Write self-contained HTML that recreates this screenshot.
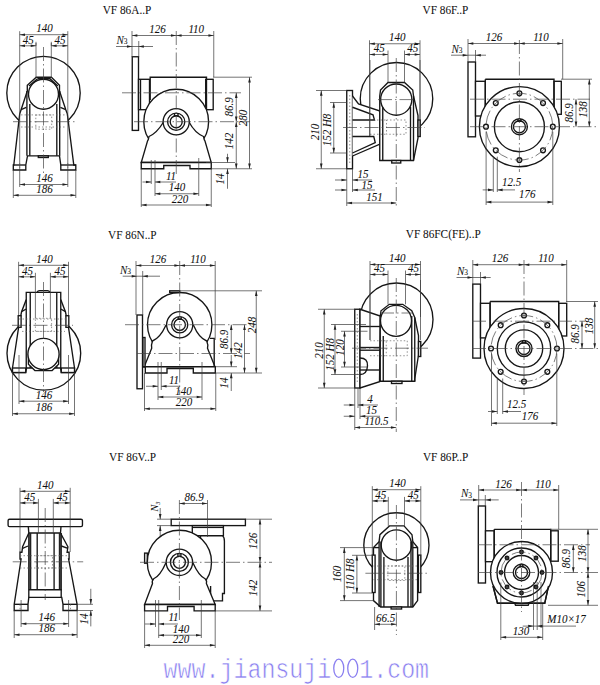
<!DOCTYPE html>
<html><head><meta charset="utf-8"><style>
html,body{margin:0;padding:0;background:#fff;width:600px;height:685px;overflow:hidden}
svg{display:block}
.o{stroke:#161616;stroke-width:1.35;fill:none}
.d{stroke:#3a3a3a;stroke-width:0.7;fill:none}
.c{stroke:#444;stroke-width:0.7;fill:none;stroke-dasharray:14 3 1.5 3}
.h{stroke:#666;stroke-width:0.7;fill:none;stroke-dasharray:1.5 2}
.ar{fill:#222;stroke:none}
.dt{font-family:"Liberation Serif",serif;font-style:italic;fill:#111;stroke:#111;stroke-width:0.05}
.tt{font-family:"Liberation Serif",serif;fill:#111;stroke:#111;stroke-width:0.05}
.ww{font-family:"Liberation Mono",monospace;fill:#8a7ff0;stroke:#fff;stroke-width:0.5}
</style></head><body>
<svg width="600" height="685" viewBox="0 0 600 685">
<rect width="600" height="685" fill="#fff"/>
<text class="tt" transform="translate(102.7 14) scale(1 1.17)" x="0" y="0" font-size="11.3">VF 86A..P</text>
<text class="tt" transform="translate(422.5 14) scale(1 1.17)" x="0" y="0" font-size="11.3">VF 86F..P</text>
<text class="tt" transform="translate(108 238.9) scale(1 1.17)" x="0" y="0" font-size="11.3">VF 86N..P</text>
<text class="tt" transform="translate(405.8 237.5) scale(1 1.17)" x="0" y="0" font-size="11.3">VF 86FC(FE)..P</text>
<text class="tt" transform="translate(109 460.8) scale(1 1.17)" x="0" y="0" font-size="11.3">VF 86V..P</text>
<text class="tt" transform="translate(422.9 461.3) scale(1 1.17)" x="0" y="0" font-size="11.3">VF 86P..P</text>
<g transform="translate(0 677.5) scale(1 1.2)"><text class="ww" style="white-space:pre" y="0" font-size="23.3" x="163.6">www.jiansuji  1.com</text></g>
<ellipse cx="338.76" cy="668.3" rx="5.0" ry="9.1" style="fill:none;stroke:#8a7ff0;stroke-width:1.3"/>
<ellipse cx="352.74" cy="668.3" rx="5.0" ry="9.1" style="fill:none;stroke:#8a7ff0;stroke-width:1.3"/>
<circle class="o" cx="43.5" cy="93" r="36.7" style="fill:none"/>
<path class="o" d="M36.25 77.2 L51.4 77.2 L59.5 85.2 L59.5 91 L65.8 109.7 L67.3 113.8 L73.8 165 L75.8 165 L75.8 170 L60.8 170 L60.8 165 L59.5 155.8 L27.5 155.8 L25.8 165 L25.8 170 L13.3 170 L13.3 165 L13.8 165 L19.7 113.8 L21.1 109.7 L27.3 91 L27.3 85.2 Z" style="fill:#fff"/>
<circle class="o" cx="43.5" cy="94.2" r="15" style="fill:none"/>
<line class="o" x1="26.9" y1="91" x2="26.9" y2="155.8"/>
<line class="o" x1="29.8" y1="104" x2="29.8" y2="155.8"/>
<line class="o" x1="56.8" y1="104" x2="56.8" y2="155.8"/>
<line class="o" x1="59.7" y1="91" x2="59.7" y2="155.8"/>
<line class="o" x1="26.3" y1="107.3" x2="21.1" y2="109.7"/>
<line class="o" x1="60.4" y1="107.3" x2="65.8" y2="109.7"/>
<path class="o" d="M37.5 78.7 L50 78.7 L57.8 86"/>
<path class="o" d="M29 86 L37.5 78.7"/>
<rect class="o" x="38.3" y="155.8" width="10" height="1.7" style="fill:#fff"/>
<line class="o" x1="13.3" y1="165" x2="25.8" y2="165"/>
<line class="o" x1="60.8" y1="165" x2="75.8" y2="165"/>
<rect class="o" x="132.25" y="56.75" width="6.25" height="73.65" style="fill:#fff"/>
<rect class="o" x="138.5" y="79.3" width="11" height="30.4" style="fill:#fff"/>
<line class="o" x1="140.5" y1="79.3" x2="140.5" y2="109.7"/>
<rect class="o" x="205.7" y="79.3" width="7.5" height="30.4" style="fill:#fff"/>
<path class="o" d="M149.5 77.2 L206.5 77.2 L206.5 110 M150.2 77.2 L150.2 100"/>
<circle class="o" cx="176.2" cy="121.7" r="32.4" style="fill:#fff"/>
<path class="o" d="M149 136.5 Q 157 133 163.5 122 A13.1 13.1 0 0 1 189 122 Q 195 133 203.5 136.5 Q 204 140 205 141 L211.25 162.5 L141.25 162.5 L147.5 141 Q 148.5 140 149 136.5 Z" style="fill:#fff"/>
<circle class="o" cx="176.2" cy="121.7" r="13.1" style="fill:#fff"/>
<circle class="o" cx="176.2" cy="121.7" r="8.6" style="fill:none"/>
<circle class="o" cx="176.2" cy="121.7" r="6" style="fill:none"/>
<path class="o" d="M174.5 113.2 L174.5 115.8 L178 115.8 L178 113.2"/>
<path class="o" d="M141.25 162.5 L211.25 162.5 L211.25 168.75 L190 168.75 L190 165.5 L163.75 165.5 L163.75 168.75 L141.25 168.75 Z" style="fill:#fff"/>
<circle class="o" cx="396.5" cy="98.75" r="36.25" style="fill:none"/>
<rect class="o" x="346.75" y="90.5" width="5.75" height="78.25" style="fill:#fff"/>
<path class="o" d="M352.5 96 L358.5 104 L380 111 L380 144 L352.5 156" style="fill:#fff"/>
<path class="o" d="M352.5 107.25 L373 114.75 L374.5 120 L352.5 120"/>
<path class="o" d="M352.5 136.5 L373.75 136.5 L375.25 142.5 L352.5 153"/>
<path class="o" d="M388 82.5 L404.5 82.5 L412.75 90 L413.5 96 L418 115.5 L418 138 L413.5 160.5 L379.75 160.5 L379.75 96 L380.5 90 Z" style="fill:#fff"/>
<circle class="o" cx="396.25" cy="99.6" r="15.6" style="fill:#fff"/>
<line class="o" x1="382.75" y1="107" x2="382.75" y2="160.5"/>
<line class="o" x1="410.5" y1="107" x2="410.5" y2="160.5"/>
<line class="o" x1="413.5" y1="96" x2="413.5" y2="160.5"/>
<rect class="o" x="418" y="120" width="2.25" height="16.5" style="fill:#fff"/>
<rect class="o" x="391.75" y="160.5" width="9" height="2.5" style="fill:#fff"/>
<rect class="o" x="468" y="62" width="7.5" height="74.8" style="fill:#fff"/>
<rect class="o" x="475.5" y="81.3" width="9.8" height="34.7" style="fill:#fff"/>
<rect class="o" x="554" y="81.3" width="7.3" height="33" style="fill:#fff"/>
<path class="o" d="M485.3 79.2 L554 79.2 L554 114.3 M485.3 79.2 L485.3 116"/>
<circle class="o" cx="519.4" cy="126.7" r="40" style="fill:#fff"/>
<circle class="o" cx="519.4" cy="126.7" r="25" style="fill:none"/>
<circle class="o" cx="519.4" cy="126.7" r="8" style="fill:none"/>
<circle class="o" cx="519.4" cy="126.7" r="6" style="fill:none"/>
<path class="o" d="M517.9 118.9 L517.9 121.2 L520.9 121.2 L520.9 118.9"/>
<circle class="o" cx="552.8" cy="126.7" r="2.4" style="fill:none"/>
<circle class="o" cx="543.02" cy="150.32" r="2.4" style="fill:none"/>
<circle class="o" cx="519.4" cy="160.1" r="2.4" style="fill:none"/>
<circle class="o" cx="495.78" cy="150.32" r="2.4" style="fill:none"/>
<circle class="o" cx="486" cy="126.7" r="2.4" style="fill:none"/>
<circle class="o" cx="495.78" cy="103.08" r="2.4" style="fill:none"/>
<circle class="o" cx="519.4" cy="93.3" r="2.4" style="fill:none"/>
<circle class="o" cx="543.02" cy="103.08" r="2.4" style="fill:none"/>
<circle class="o" cx="43.85" cy="353.3" r="36.85" style="fill:none"/>
<path class="o" d="M26.25 292.3 L60.75 292.3 L60.75 299.6 L65.5 312 L68.5 327.3 L74.5 368 L74.5 372.5 L61.3 372.5 L60.5 368 L26.6 368 L25.7 372.5 L12.5 372.5 L12.5 368 L18.6 327.3 L21.5 312 L26.25 299.6 Z" style="fill:#fff"/>
<rect class="o" x="18.2" y="315.7" width="2.9" height="11.6" style="fill:#fff"/>
<rect class="o" x="65.9" y="315.7" width="2.9" height="11.6" style="fill:#fff"/>
<line class="o" x1="26.25" y1="309" x2="21.5" y2="311.6"/>
<line class="o" x1="60.75" y1="309" x2="65.5" y2="311.6"/>
<path class="o" d="M37.2 292.3 Q37.8 290.6 39.5 290.6 L47.5 290.6 Q49.2 290.6 49.8 292.3"/>
<line class="o" x1="30.25" y1="292.3" x2="30.25" y2="368"/>
<line class="o" x1="56.75" y1="292.3" x2="56.75" y2="368"/>
<line class="o" x1="26.25" y1="299.6" x2="26.25" y2="368"/>
<line class="o" x1="60.75" y1="299.6" x2="60.75" y2="368"/>
<rect class="o" x="12.5" y="368" width="13.2" height="4.5" style="fill:#fff"/>
<rect class="o" x="61.3" y="368" width="13.2" height="4.5" style="fill:#fff"/>
<path class="o" d="M28.4 354 L28.4 364.2 L34.9 370.6 L52.1 370.6 L58.6 364.2 L58.6 354" style="fill:#fff"/>
<circle class="o" cx="43.5" cy="354" r="15.6" style="fill:#fff"/>
<rect class="o" x="137" y="315" width="5.5" height="73.75" style="fill:#fff"/>
<circle class="o" cx="179.7" cy="324.7" r="32.2" style="fill:#fff"/>
<rect class="o" x="169.7" y="290.8" width="10" height="1.7" style="fill:#fff"/>
<path class="o" d="M165.8 325.5 Q 160 338 152.5 341 Q 151 345 151.7 348.3 L144.2 366.7 L215 366.7 L207.5 348.3 Q 208.5 345 206.7 341 Q 199 338 193.6 325.5 Z" style="fill:#fff"/>
<rect class="o" x="143" y="337.5" width="2" height="29.2" style="fill:#fff"/>
<path class="o" d="M210 338.3 L214.2 338.3 L214.2 366.7"/>
<circle class="o" cx="179.7" cy="324.7" r="13.1" style="fill:#fff"/>
<circle class="o" cx="179.7" cy="324.7" r="8.1" style="fill:none"/>
<circle class="o" cx="179.7" cy="324.7" r="5.7" style="fill:none"/>
<path class="o" d="M178.2 316.7 L178.2 319.2 L181.2 319.2 L181.2 316.7"/>
<path class="o" d="M143 366.7 L215.3 366.7 L215.3 373 L193.3 373 L193.3 368.5 L167 368.5 L167 373 L145.3 373 L145.3 366.7 Z" style="fill:#fff"/>
<circle class="o" cx="396.5" cy="319.5" r="36.5" style="fill:none"/>
<rect class="o" x="354.75" y="309.25" width="5.25" height="78.75" style="fill:#fff"/>
<path class="o" d="M360 309.25 L380.25 316 L379.5 381.7 L360 388 Z" style="fill:#fff"/>
<line class="o" x1="360" y1="326.5" x2="380" y2="326.5"/>
<line class="o" x1="360" y1="347.5" x2="380" y2="347.5"/>
<line class="o" x1="360" y1="350.2" x2="380" y2="350.2"/>
<line class="o" x1="360" y1="370" x2="380" y2="370"/>
<path class="o" d="M360 358 Q 368 358 367.5 366 Q 367 374.5 360 374.5"/>
<path class="o" d="M389.25 304.3 L402.75 304.3 L411.75 310.75 L414.75 317.5 L418.5 335.5 L418.5 355 L414.75 379 L414.75 381.2 L380.25 381.2 L380.25 316 L381 310.75 Z" style="fill:#fff"/>
<circle class="o" cx="396" cy="320.8" r="15.5" style="fill:#fff"/>
<line class="o" x1="383.25" y1="336" x2="383.25" y2="381.2"/>
<line class="o" x1="411.75" y1="316" x2="411.75" y2="381.2"/>
<line class="o" x1="414.75" y1="317.5" x2="414.75" y2="381.2"/>
<rect class="o" x="418.5" y="341.5" width="2.25" height="15" style="fill:#fff"/>
<rect class="o" x="391.5" y="381.2" width="10.5" height="2.3" style="fill:#fff"/>
<rect class="o" x="472.8" y="284.1" width="7.7" height="74" style="fill:#fff"/>
<rect class="o" x="480.5" y="303.3" width="9.6" height="34.6" style="fill:#fff"/>
<rect class="o" x="558.7" y="303.3" width="8" height="32.7" style="fill:#fff"/>
<path class="o" d="M490.1 301.5 L558.7 301.5 L558.7 336 M490.1 301.5 L490.1 337.9"/>
<circle class="o" cx="524" cy="348.5" r="40" style="fill:#fff"/>
<circle class="o" cx="524" cy="348.5" r="26.7" style="fill:none"/>
<circle class="o" cx="524" cy="348.5" r="18.7" style="fill:none"/>
<circle class="o" cx="524" cy="348.5" r="8" style="fill:none"/>
<circle class="o" cx="524" cy="348.5" r="6" style="fill:none"/>
<path class="o" d="M522.5 340.7 L522.5 343.0 L525.5 343.0 L525.5 340.7"/>
<circle class="o" cx="557" cy="348.5" r="2.4" style="fill:none"/>
<circle class="o" cx="547.33" cy="371.83" r="2.4" style="fill:none"/>
<circle class="o" cx="524" cy="381.5" r="2.4" style="fill:none"/>
<circle class="o" cx="500.67" cy="371.83" r="2.4" style="fill:none"/>
<circle class="o" cx="491" cy="348.5" r="2.4" style="fill:none"/>
<circle class="o" cx="500.67" cy="325.17" r="2.4" style="fill:none"/>
<circle class="o" cx="524" cy="315.5" r="2.4" style="fill:none"/>
<circle class="o" cx="547.33" cy="325.17" r="2.4" style="fill:none"/>
<path class="o" d="M9.5 519.2 L81 519.2 Q82.45 519.2 82.45 520.6 L82.45 525.2 Q82.45 526.6 81 526.6 L9.5 526.6 Q8.1 526.6 8.1 525.2 L8.1 520.6 Q8.1 519.2 9.5 519.2 Z" style="fill:#fff"/>
<path class="o" d="M28.3 526.6 L61 526.6 L60.5 533 L67.9 546.8 L67.1 552.2 L69.1 552.2 L69.1 559 L68.6 559 L77.1 604.3 L77.1 610.5 L63 610.5 L63 604.3 L61.75 597.4 L28.8 597.4 L28 604.3 L28 610.5 L14.2 610.5 L14.2 604.3 L21.1 559 L20 559 L20 552.2 L21.9 552.2 L22.6 546.8 L28.8 533 Z" style="fill:#fff"/>
<line class="o" x1="28.8" y1="533" x2="60.5" y2="533"/>
<line class="o" x1="28.8" y1="533" x2="28.8" y2="597.4"/>
<line class="o" x1="37.2" y1="533" x2="37.2" y2="589.75"/>
<line class="o" x1="54.1" y1="533" x2="54.1" y2="589.75"/>
<line class="o" x1="61.2" y1="533" x2="61.2" y2="597.4"/>
<path d="M30.3 533 L30.3 589.75 M59.8 533 L59.8 589.75" style="stroke:#222;stroke-width:2;fill:none"/>
<line class="o" x1="28.8" y1="589.75" x2="61.75" y2="589.75"/>
<line class="o" x1="28" y1="546" x2="22.6" y2="548.3"/>
<line class="o" x1="61.4" y1="546" x2="67.9" y2="548.3"/>
<line class="o" x1="14.2" y1="604.3" x2="28" y2="604.3"/>
<line class="o" x1="63" y1="604.3" x2="77.1" y2="604.3"/>
<rect class="o" x="171.2" y="519.2" width="74.2" height="6.4" style="fill:#fff"/>
<rect class="o" x="192.3" y="525.6" width="31.1" height="10.1" style="fill:#fff"/>
<line class="o" x1="192.3" y1="527.4" x2="223.4" y2="527.4"/>
<path class="o" d="M200.5 535.7 L222.5 535.7 Q224.4 537 224.4 541 L224.4 593.5 L222.5 593.5 L222.5 600.8 L210.6 600.8 L210.6 586" style="fill:#fff"/>
<line class="o" x1="200.5" y1="535.7" x2="200.5" y2="586"/>
<rect class="o" x="144.6" y="553.1" width="2.7" height="10.1" style="fill:#fff"/>
<circle class="o" cx="179.4" cy="562.3" r="32.1" style="fill:#fff"/>
<path class="o" d="M165.7 563.2 Q 160 576 153.75 578.75 Q 151.5 581 152.5 583.4 L144.6 604.5 L215.2 604.5 L206.4 583.4 Q 207.3 581 205.1 578.75 Q 199 576 193.1 563.2 Z" style="fill:#fff"/>
<circle class="o" cx="179.4" cy="562.3" r="13.2" style="fill:#fff"/>
<circle class="o" cx="179.4" cy="562.3" r="9" style="fill:none"/>
<circle class="o" cx="179.4" cy="562.3" r="6" style="fill:none"/>
<path class="o" d="M177.9 553.3 L177.9 556.3 L180.9 556.3 L180.9 553.3"/>
<path class="o" d="M144.6 604.5 L215.2 604.5 L215.2 610.9 L194.1 610.9 L194.1 606.5 L167.5 606.5 L167.5 610.9 L144.6 610.9 Z" style="fill:#fff"/>
<text class="dt" transform="rotate(-90 158 506.5)" x="158" y="506.5" font-size="10" text-anchor="middle">N<tspan font-size="6.5" dy="1.5">3</tspan></text>
<circle class="o" cx="396.4" cy="545.3" r="32.6" style="fill:none"/>
<path class="o" d="M389.5 525.9 L404 525.9 L412 534.7 L412.8 541.6 L417.6 547.6 L417.6 600.6 L412.8 607 L380.7 607 L373.5 600.6 L373.5 547.6 L379.1 541.6 L379.9 534.7 Z" style="fill:#fff"/>
<circle class="o" cx="396.4" cy="545" r="15.2" style="fill:#fff"/>
<line class="o" x1="379.1" y1="541.6" x2="379.1" y2="607"/>
<line class="o" x1="380.9" y1="541.6" x2="380.9" y2="607"/>
<line class="o" x1="412.8" y1="541.6" x2="412.8" y2="607"/>
<line class="o" x1="411" y1="541.6" x2="411" y2="607"/>
<line class="o" x1="383.9" y1="557" x2="383.9" y2="607"/>
<line class="o" x1="408" y1="557" x2="408" y2="607"/>
<line class="o" x1="373.5" y1="547.6" x2="379.1" y2="547.6"/>
<line class="o" x1="412.8" y1="547.6" x2="417.6" y2="547.6"/>
<rect class="o" x="372.3" y="555.1" width="2.8" height="37.4" style="fill:#fff"/>
<rect class="o" x="418.4" y="555.1" width="2.4" height="37.4" style="fill:#fff"/>
<rect class="o" x="391.1" y="607" width="10.5" height="2" style="fill:#fff"/>
<rect class="o" x="478.3" y="506" width="7.2" height="77" style="fill:#fff"/>
<rect class="o" x="485.5" y="530.8" width="8.7" height="30.9" style="fill:#fff"/>
<rect class="o" x="550.75" y="530.8" width="7.5" height="30.4" style="fill:#fff"/>
<path class="o" d="M494.2 529.3 L550.75 529.3 L550.75 561.2 M494.2 529.3 L494.2 561.7"/>
<path class="o" d="M493 586 L497.5 603.25 L544.75 603.25 L548.5 586" style="fill:#fff"/>
<circle class="o" cx="521.5" cy="572.5" r="31" style="fill:#fff"/>
<circle class="o" cx="521.5" cy="572.5" r="24.5" style="fill:none"/>
<circle class="o" cx="521.5" cy="572.5" r="17" style="fill:none"/>
<circle class="o" cx="521.5" cy="572.5" r="8.25" style="fill:none"/>
<circle class="o" cx="521.5" cy="572.5" r="6" style="fill:none"/>
<path class="o" d="M520.2 567.2 L520.2 564.5 L522.8 564.5 L522.8 567.2"/>
<path class="o" d="M493 586 L497.5 603.25 L544.75 603.25 L548.5 586"/>
<path class="o" d="M514.75 603.25 L515.5 605.2 L528.2 605.2 L529 603.25"/>
<circle class="o" cx="542" cy="572.5" r="1.8" style="fill:#444"/>
<circle class="o" cx="536" cy="587" r="1.8" style="fill:#444"/>
<circle class="o" cx="521.5" cy="593" r="1.8" style="fill:#444"/>
<circle class="o" cx="507" cy="587" r="1.8" style="fill:#444"/>
<circle class="o" cx="501" cy="572.5" r="1.8" style="fill:#444"/>
<circle class="o" cx="507" cy="558" r="1.8" style="fill:#444"/>
<circle class="o" cx="521.5" cy="552" r="1.8" style="fill:#444"/>
<circle class="o" cx="536" cy="558" r="1.8" style="fill:#444"/>
<line class="d" x1="19.7" y1="34.7" x2="67.8" y2="34.7"/>
<path class="ar" d="M19.7 34.7 L25 33.4 L25 36 Z"/>
<path class="ar" d="M67.8 34.7 L62.5 36 L62.5 33.4 Z"/>
<line class="d" x1="19.7" y1="31.2" x2="19.7" y2="187"/>
<line class="d" x1="67.8" y1="31.2" x2="67.8" y2="187"/>
<line class="d" x1="36" y1="41.8" x2="36" y2="45.8"/>
<line class="d" x1="51.3" y1="41.8" x2="51.3" y2="45.8"/>
<line class="d" x1="19.7" y1="45.8" x2="36" y2="45.8"/>
<path class="ar" d="M19.7 45.8 L25 44.5 L25 47.1 Z"/>
<path class="ar" d="M36 45.8 L30.7 47.1 L30.7 44.5 Z"/>
<line class="d" x1="51.3" y1="45.8" x2="67.8" y2="45.8"/>
<path class="ar" d="M51.3 45.8 L56.6 44.5 L56.6 47.1 Z"/>
<path class="ar" d="M67.8 45.8 L62.5 47.1 L62.5 44.5 Z"/>
<text class="dt" transform="translate(44.5 32.2) scale(1 1.15)" x="0" y="0" font-size="11" text-anchor="middle">140</text>
<text class="dt" transform="translate(28.35 43.6) scale(1 1.15)" x="0" y="0" font-size="11" text-anchor="middle">45</text>
<text class="dt" transform="translate(60.05 43.6) scale(1 1.15)" x="0" y="0" font-size="11" text-anchor="middle">45</text>
<line class="d" x1="36" y1="43" x2="36" y2="78"/>
<line class="d" x1="51.3" y1="43" x2="51.3" y2="78"/>
<line class="h" x1="21" y1="114.9" x2="66" y2="114.9"/>
<line class="h" x1="19.7" y1="163" x2="19.7" y2="170"/>
<line class="h" x1="67.8" y1="163" x2="67.8" y2="170"/>
<rect class="h" x="35.8" y="115" width="15.9" height="14.2" style="fill:none"/>
<line class="c" x1="13" y1="121.7" x2="75" y2="121.7"/>
<line class="h" x1="21" y1="127" x2="66" y2="127"/>
<line class="c" x1="43.5" y1="47" x2="43.5" y2="175"/>
<line class="d" x1="19.7" y1="184.5" x2="67.8" y2="184.5"/>
<path class="ar" d="M19.7 184.5 L25 183.2 L25 185.8 Z"/>
<path class="ar" d="M67.8 184.5 L62.5 185.8 L62.5 183.2 Z"/>
<text class="dt" transform="translate(44.5 182) scale(1 1.15)" x="0" y="0" font-size="11" text-anchor="middle">146</text>
<line class="d" x1="13.3" y1="195.3" x2="75.8" y2="195.3"/>
<path class="ar" d="M13.3 195.3 L18.6 194 L18.6 196.6 Z"/>
<path class="ar" d="M75.8 195.3 L70.5 196.6 L70.5 194 Z"/>
<text class="dt" transform="translate(44.5 193) scale(1 1.15)" x="0" y="0" font-size="11" text-anchor="middle">186</text>
<line class="d" x1="13.3" y1="170" x2="13.3" y2="198"/>
<line class="d" x1="75.8" y1="170" x2="75.8" y2="198"/>
<line class="d" x1="151.25" y1="160" x2="151.25" y2="184"/>
<line class="d" x1="155" y1="160" x2="155" y2="196"/>
<line class="d" x1="198.75" y1="158" x2="198.75" y2="196"/>
<line class="c" x1="176.25" y1="31" x2="176.25" y2="175"/>
<line class="c" x1="122" y1="92.8" x2="241" y2="92.8"/>
<line class="c" x1="134" y1="121.7" x2="250" y2="121.7"/>
<line class="d" x1="132" y1="35.5" x2="213.75" y2="35.5"/>
<path class="ar" d="M132 35.5 L137.3 34.2 L137.3 36.8 Z"/>
<path class="ar" d="M176.25 35.5 L170.95 36.8 L170.95 34.2 Z"/>
<path class="ar" d="M176.25 35.5 L181.55 34.2 L181.55 36.8 Z"/>
<path class="ar" d="M213.75 35.5 L208.45 36.8 L208.45 34.2 Z"/>
<line class="d" x1="132" y1="31" x2="132" y2="56.75"/>
<line class="d" x1="213.75" y1="31" x2="213.75" y2="77"/>
<text class="dt" transform="translate(157.5 33.3) scale(1 1.15)" x="0" y="0" font-size="11" text-anchor="middle">126</text>
<text class="dt" transform="translate(196.25 33.3) scale(1 1.15)" x="0" y="0" font-size="11" text-anchor="middle">110</text>
<line class="d" x1="116" y1="46.5" x2="153" y2="46.5"/>
<path class="ar" d="M132.25 46.5 L126.95 47.8 L126.95 45.2 Z"/>
<path class="ar" d="M138.5 46.5 L143.8 45.2 L143.8 47.8 Z"/>
<line class="d" x1="138.75" y1="41" x2="138.75" y2="56.75"/>
<text class="dt" transform="translate(116.5 44) scale(1 1.15)" x="0" y="0" font-size="11">N<tspan font-size="7.5" dy="0.3" style="font-style:normal">3</tspan></text>
<line class="d" x1="213" y1="77.2" x2="252" y2="77.2"/>
<line class="d" x1="206" y1="162.5" x2="235" y2="162.5"/>
<line class="d" x1="211" y1="168.75" x2="252" y2="168.75"/>
<line class="d" x1="236.25" y1="92.8" x2="236.25" y2="121.7"/>
<path class="ar" d="M236.25 92.8 L237.55 98.1 L234.95 98.1 Z"/>
<path class="ar" d="M236.25 121.7 L234.95 116.4 L237.55 116.4 Z"/>
<text class="dt" transform="translate(233 107) rotate(-90) scale(1 1.15)" x="0" y="0" font-size="11" text-anchor="middle">86.9</text>
<line class="d" x1="236.25" y1="121.7" x2="236.25" y2="168.75"/>
<path class="ar" d="M236.25 121.7 L237.55 127 L234.95 127 Z"/>
<path class="ar" d="M236.25 168.75 L234.95 163.45 L237.55 163.45 Z"/>
<text class="dt" transform="translate(233 141) rotate(-90) scale(1 1.15)" x="0" y="0" font-size="11" text-anchor="middle">142</text>
<line class="d" x1="249.5" y1="77.2" x2="249.5" y2="168.75"/>
<path class="ar" d="M249.5 77.2 L250.8 82.5 L248.2 82.5 Z"/>
<path class="ar" d="M249.5 168.75 L248.2 163.45 L250.8 163.45 Z"/>
<text class="dt" transform="translate(246.5 118) rotate(-90) scale(1 1.15)" x="0" y="0" font-size="11" text-anchor="middle">280</text>
<line class="d" x1="227.5" y1="153.75" x2="227.5" y2="162.5"/>
<path class="ar" d="M227.5 162.5 L226.2 157.2 L228.8 157.2 Z"/>
<line class="d" x1="227.5" y1="168.75" x2="227.5" y2="188.75"/>
<path class="ar" d="M227.5 168.75 L228.8 174.05 L226.2 174.05 Z"/>
<text class="dt" transform="translate(224 179) rotate(-90) scale(1 1.15)" x="0" y="0" font-size="11" text-anchor="middle">14</text>
<line class="d" x1="141.25" y1="168.75" x2="141.25" y2="207"/>
<line class="d" x1="211.25" y1="168.75" x2="211.25" y2="207"/>
<line class="d" x1="142.5" y1="182" x2="151.25" y2="182"/>
<path class="ar" d="M151.25 182 L145.95 183.3 L145.95 180.7 Z"/>
<line class="d" x1="155" y1="182" x2="176" y2="182"/>
<path class="ar" d="M155 182 L160.3 180.7 L160.3 183.3 Z"/>
<text class="dt" transform="translate(171 179.5) scale(1 1.15)" x="0" y="0" font-size="11" text-anchor="middle">11</text>
<line class="d" x1="155" y1="193.75" x2="198.75" y2="193.75"/>
<path class="ar" d="M155 193.75 L160.3 192.45 L160.3 195.05 Z"/>
<path class="ar" d="M198.75 193.75 L193.45 195.05 L193.45 192.45 Z"/>
<text class="dt" transform="translate(177 191) scale(1 1.15)" x="0" y="0" font-size="11" text-anchor="middle">140</text>
<line class="d" x1="141.25" y1="205" x2="211.25" y2="205"/>
<path class="ar" d="M141.25 205 L146.55 203.7 L146.55 206.3 Z"/>
<path class="ar" d="M211.25 205 L205.95 206.3 L205.95 203.7 Z"/>
<text class="dt" transform="translate(180 202.5) scale(1 1.15)" x="0" y="0" font-size="11" text-anchor="middle">220</text>
<line class="d" x1="369.5" y1="43.75" x2="420" y2="43.75"/>
<path class="ar" d="M369.5 43.75 L374.8 42.45 L374.8 45.05 Z"/>
<path class="ar" d="M420 43.75 L414.7 45.05 L414.7 42.45 Z"/>
<line class="d" x1="369.5" y1="40.25" x2="369.5" y2="136"/>
<line class="d" x1="420" y1="40.25" x2="420" y2="136"/>
<line class="d" x1="388" y1="50.5" x2="388" y2="54.5"/>
<line class="d" x1="404.5" y1="50.5" x2="404.5" y2="54.5"/>
<line class="d" x1="369.5" y1="54.5" x2="388" y2="54.5"/>
<path class="ar" d="M369.5 54.5 L374.8 53.2 L374.8 55.8 Z"/>
<path class="ar" d="M388 54.5 L382.7 55.8 L382.7 53.2 Z"/>
<line class="d" x1="404.5" y1="54.5" x2="420" y2="54.5"/>
<path class="ar" d="M404.5 54.5 L409.8 53.2 L409.8 55.8 Z"/>
<path class="ar" d="M420 54.5 L414.7 55.8 L414.7 53.2 Z"/>
<text class="dt" transform="translate(397.25 41.25) scale(1 1.15)" x="0" y="0" font-size="11" text-anchor="middle">140</text>
<text class="dt" transform="translate(379.25 52.3) scale(1 1.15)" x="0" y="0" font-size="11" text-anchor="middle">45</text>
<text class="dt" transform="translate(412.75 52.3) scale(1 1.15)" x="0" y="0" font-size="11" text-anchor="middle">45</text>
<line class="h" x1="349.75" y1="95" x2="349.75" y2="165"/>
<rect class="h" x="386.5" y="120" width="19.5" height="14.25" style="fill:none"/>
<line class="h" x1="370" y1="120" x2="386" y2="120"/>
<line class="h" x1="370" y1="134.25" x2="386" y2="134.25"/>
<line class="d" x1="370" y1="60" x2="370" y2="136"/>
<line class="d" x1="420" y1="60" x2="420" y2="120"/>
<line class="d" x1="388" y1="54.5" x2="388" y2="82.5"/>
<line class="d" x1="404.5" y1="54.5" x2="404.5" y2="82.5"/>
<line class="c" x1="343" y1="127.5" x2="425" y2="127.5"/>
<line class="c" x1="378" y1="99.6" x2="416" y2="99.6"/>
<line class="c" x1="396.25" y1="58" x2="396.25" y2="206"/>
<line class="d" x1="316" y1="90.5" x2="346.75" y2="90.5"/>
<line class="d" x1="316" y1="168.75" x2="346.75" y2="168.75"/>
<line class="d" x1="321.25" y1="90.5" x2="321.25" y2="168.75"/>
<path class="ar" d="M321.25 90.5 L322.55 95.8 L319.95 95.8 Z"/>
<path class="ar" d="M321.25 168.75 L319.95 163.45 L322.55 163.45 Z"/>
<text class="dt" transform="translate(319 132) rotate(-90) scale(1 1.15)" x="0" y="0" font-size="11" text-anchor="middle">210</text>
<line class="d" x1="330" y1="102.5" x2="346.75" y2="102.5"/>
<line class="d" x1="330" y1="153" x2="346.75" y2="153"/>
<line class="d" x1="333.75" y1="102.5" x2="333.75" y2="153"/>
<path class="ar" d="M333.75 102.5 L335.05 107.8 L332.45 107.8 Z"/>
<path class="ar" d="M333.75 153 L332.45 147.7 L335.05 147.7 Z"/>
<text class="dt" transform="translate(331.2 130) rotate(-90) scale(1 1.15)" x="0" y="0" font-size="11" text-anchor="middle">152 H8</text>
<line class="d" x1="346.75" y1="168.75" x2="346.75" y2="206"/>
<line class="d" x1="352.5" y1="168.75" x2="352.5" y2="192"/>
<line class="d" x1="335" y1="180" x2="346.75" y2="180"/>
<path class="ar" d="M346.75 180 L341.45 181.3 L341.45 178.7 Z"/>
<line class="d" x1="352.5" y1="180" x2="372" y2="180"/>
<path class="ar" d="M352.5 180 L357.8 178.7 L357.8 181.3 Z"/>
<text class="dt" transform="translate(363 177.5) scale(1 1.15)" x="0" y="0" font-size="11" text-anchor="middle">15</text>
<line class="d" x1="335" y1="190" x2="346.75" y2="190"/>
<path class="ar" d="M346.75 190 L341.45 191.3 L341.45 188.7 Z"/>
<line class="d" x1="352.5" y1="190" x2="375" y2="190"/>
<path class="ar" d="M352.5 190 L357.8 188.7 L357.8 191.3 Z"/>
<text class="dt" transform="translate(367 189) scale(1 1.15)" x="0" y="0" font-size="11" text-anchor="middle">15</text>
<line class="d" x1="346.75" y1="203" x2="396.25" y2="203"/>
<path class="ar" d="M346.75 203 L352.05 201.7 L352.05 204.3 Z"/>
<path class="ar" d="M396.25 203 L390.95 204.3 L390.95 201.7 Z"/>
<text class="dt" transform="translate(374.5 200.5) scale(1 1.15)" x="0" y="0" font-size="11" text-anchor="middle">151</text>
<circle class="c" cx="519.4" cy="126.7" r="33.4" style="fill:none"/>
<line class="c" x1="470" y1="99.2" x2="590" y2="99.2"/>
<line class="c" x1="470" y1="126.7" x2="598" y2="126.7"/>
<line class="c" x1="519.4" y1="40" x2="519.4" y2="172"/>
<line class="d" x1="468" y1="43.5" x2="562.7" y2="43.5"/>
<path class="ar" d="M468 43.5 L473.3 42.2 L473.3 44.8 Z"/>
<path class="ar" d="M519.4 43.5 L514.1 44.8 L514.1 42.2 Z"/>
<path class="ar" d="M519.4 43.5 L524.7 42.2 L524.7 44.8 Z"/>
<path class="ar" d="M562.7 43.5 L557.4 44.8 L557.4 42.2 Z"/>
<line class="d" x1="468" y1="39" x2="468" y2="62"/>
<line class="d" x1="562.7" y1="39" x2="562.7" y2="79.2"/>
<text class="dt" transform="translate(494 41.2) scale(1 1.15)" x="0" y="0" font-size="11" text-anchor="middle">126</text>
<text class="dt" transform="translate(541 41.2) scale(1 1.15)" x="0" y="0" font-size="11" text-anchor="middle">110</text>
<line class="d" x1="451" y1="55.2" x2="486" y2="55.2"/>
<path class="ar" d="M468 55.2 L462.7 56.5 L462.7 53.9 Z"/>
<path class="ar" d="M475.5 55.2 L480.8 53.9 L480.8 56.5 Z"/>
<line class="d" x1="475.5" y1="50" x2="475.5" y2="62"/>
<text class="dt" transform="translate(451.5 52.5) scale(1 1.15)" x="0" y="0" font-size="11">N<tspan font-size="7.5" dy="0.3" style="font-style:normal">3</tspan></text>
<line class="d" x1="561" y1="79.2" x2="592" y2="79.2"/>
<line class="d" x1="576" y1="99.2" x2="576" y2="126.7"/>
<path class="ar" d="M576 99.2 L577.3 104.5 L574.7 104.5 Z"/>
<path class="ar" d="M576 126.7 L574.7 121.4 L577.3 121.4 Z"/>
<text class="dt" transform="translate(572.5 113) rotate(-90) scale(1 1.15)" x="0" y="0" font-size="11" text-anchor="middle">86.9</text>
<line class="d" x1="589.3" y1="79.2" x2="589.3" y2="126.7"/>
<path class="ar" d="M589.3 79.2 L590.6 84.5 L588 84.5 Z"/>
<path class="ar" d="M589.3 126.7 L588 121.4 L590.6 121.4 Z"/>
<text class="dt" transform="translate(587 109.5) rotate(-90) scale(1 1.15)" x="0" y="0" font-size="11" text-anchor="middle">138</text>
<line class="d" x1="486.1" y1="131.7" x2="486.1" y2="205"/>
<line class="d" x1="493.3" y1="156.7" x2="493.3" y2="192"/>
<line class="d" x1="497.3" y1="156.7" x2="497.3" y2="192"/>
<line class="d" x1="552.8" y1="131.7" x2="552.8" y2="205"/>
<line class="d" x1="482.7" y1="189.9" x2="493.3" y2="189.9"/>
<path class="ar" d="M493.3 189.9 L488 191.2 L488 188.6 Z"/>
<line class="d" x1="497.3" y1="189.9" x2="515" y2="189.9"/>
<path class="ar" d="M497.3 189.9 L502.6 188.6 L502.6 191.2 Z"/>
<text class="dt" transform="translate(511.5 186.3) scale(1 1.15)" x="0" y="0" font-size="11" text-anchor="middle">12.5</text>
<line class="d" x1="486.1" y1="202.1" x2="552.8" y2="202.1"/>
<path class="ar" d="M486.1 202.1 L491.4 200.8 L491.4 203.4 Z"/>
<path class="ar" d="M552.8 202.1 L547.5 203.4 L547.5 200.8 Z"/>
<text class="dt" transform="translate(527.3 198) scale(1 1.15)" x="0" y="0" font-size="11" text-anchor="middle">176</text>
<line class="d" x1="18.6" y1="265.3" x2="68.5" y2="265.3"/>
<path class="ar" d="M18.6 265.3 L23.9 264 L23.9 266.6 Z"/>
<path class="ar" d="M68.5 265.3 L63.2 266.6 L63.2 264 Z"/>
<line class="d" x1="18.6" y1="261.8" x2="18.6" y2="315"/>
<line class="d" x1="68.5" y1="261.8" x2="68.5" y2="315"/>
<line class="d" x1="35.4" y1="272.8" x2="35.4" y2="276.8"/>
<line class="d" x1="50.4" y1="272.8" x2="50.4" y2="276.8"/>
<line class="d" x1="18.6" y1="276.8" x2="35.4" y2="276.8"/>
<path class="ar" d="M18.6 276.8 L23.9 275.5 L23.9 278.1 Z"/>
<path class="ar" d="M35.4 276.8 L30.1 278.1 L30.1 275.5 Z"/>
<line class="d" x1="50.4" y1="276.8" x2="68.5" y2="276.8"/>
<path class="ar" d="M50.4 276.8 L55.7 275.5 L55.7 278.1 Z"/>
<path class="ar" d="M68.5 276.8 L63.2 278.1 L63.2 275.5 Z"/>
<text class="dt" transform="translate(44.5 262.8) scale(1 1.15)" x="0" y="0" font-size="11" text-anchor="middle">140</text>
<text class="dt" transform="translate(27.5 274.6) scale(1 1.15)" x="0" y="0" font-size="11" text-anchor="middle">45</text>
<text class="dt" transform="translate(59.95 274.6) scale(1 1.15)" x="0" y="0" font-size="11" text-anchor="middle">45</text>
<line class="d" x1="35.4" y1="276.8" x2="35.4" y2="318.3"/>
<line class="d" x1="50.4" y1="276.8" x2="50.4" y2="318.3"/>
<rect class="h" x="35.4" y="318.3" width="16.2" height="13.1" style="fill:none"/>
<line class="h" x1="19" y1="319" x2="68" y2="319"/>
<line class="h" x1="22" y1="331.4" x2="65" y2="331.4"/>
<line class="c" x1="12" y1="325.3" x2="73" y2="325.3"/>
<line class="c" x1="43.5" y1="282" x2="43.5" y2="392"/>
<line class="d" x1="19" y1="355" x2="19" y2="404"/>
<line class="d" x1="68.5" y1="355" x2="68.5" y2="404"/>
<line class="d" x1="12.5" y1="372.5" x2="12.5" y2="416"/>
<line class="d" x1="74.5" y1="372.5" x2="74.5" y2="416"/>
<line class="d" x1="19" y1="401.2" x2="68.5" y2="401.2"/>
<path class="ar" d="M19 401.2 L24.3 399.9 L24.3 402.5 Z"/>
<path class="ar" d="M68.5 401.2 L63.2 402.5 L63.2 399.9 Z"/>
<text class="dt" transform="translate(44 398.5) scale(1 1.15)" x="0" y="0" font-size="11" text-anchor="middle">146</text>
<line class="d" x1="12.5" y1="413.75" x2="74.5" y2="413.75"/>
<path class="ar" d="M12.5 413.75 L17.8 412.45 L17.8 415.05 Z"/>
<path class="ar" d="M74.5 413.75 L69.2 415.05 L69.2 412.45 Z"/>
<text class="dt" transform="translate(44 411) scale(1 1.15)" x="0" y="0" font-size="11" text-anchor="middle">186</text>
<line class="c" x1="179.7" y1="261" x2="179.7" y2="395"/>
<line class="c" x1="125" y1="324.7" x2="255" y2="324.7"/>
<line class="c" x1="137" y1="353.5" x2="250" y2="353.5"/>
<line class="d" x1="136" y1="265.5" x2="215.2" y2="265.5"/>
<path class="ar" d="M136 265.5 L141.3 264.2 L141.3 266.8 Z"/>
<path class="ar" d="M179.7 265.5 L174.4 266.8 L174.4 264.2 Z"/>
<path class="ar" d="M179.7 265.5 L185 264.2 L185 266.8 Z"/>
<path class="ar" d="M215.2 265.5 L209.9 266.8 L209.9 264.2 Z"/>
<line class="d" x1="136" y1="261" x2="136" y2="315"/>
<line class="d" x1="215.2" y1="261" x2="215.2" y2="340"/>
<text class="dt" transform="translate(158 263) scale(1 1.15)" x="0" y="0" font-size="11" text-anchor="middle">126</text>
<text class="dt" transform="translate(198 263) scale(1 1.15)" x="0" y="0" font-size="11" text-anchor="middle">110</text>
<line class="d" x1="122.7" y1="276.2" x2="160" y2="276.2"/>
<path class="ar" d="M137 276.2 L131.7 277.5 L131.7 274.9 Z"/>
<path class="ar" d="M142.5 276.2 L147.8 274.9 L147.8 277.5 Z"/>
<line class="d" x1="142.7" y1="271" x2="142.7" y2="315"/>
<text class="dt" transform="translate(120 273.8) scale(1 1.15)" x="0" y="0" font-size="11">N<tspan font-size="7.5" dy="0.3" style="font-style:normal">3</tspan></text>
<line class="d" x1="180" y1="290.8" x2="262" y2="290.8"/>
<line class="d" x1="215" y1="366.7" x2="237" y2="366.7"/>
<line class="d" x1="215" y1="373" x2="262" y2="373"/>
<line class="d" x1="231.25" y1="324.7" x2="231.25" y2="353.5"/>
<path class="ar" d="M231.25 324.7 L232.55 330 L229.95 330 Z"/>
<path class="ar" d="M231.25 353.5 L229.95 348.2 L232.55 348.2 Z"/>
<text class="dt" transform="translate(228 339.5) rotate(-90) scale(1 1.15)" x="0" y="0" font-size="11" text-anchor="middle">86.9</text>
<line class="d" x1="244.5" y1="324.7" x2="244.5" y2="373"/>
<path class="ar" d="M244.5 324.7 L245.8 330 L243.2 330 Z"/>
<path class="ar" d="M244.5 373 L243.2 367.7 L245.8 367.7 Z"/>
<text class="dt" transform="translate(241.5 350.5) rotate(-90) scale(1 1.15)" x="0" y="0" font-size="11" text-anchor="middle">142</text>
<line class="d" x1="256.25" y1="290.8" x2="256.25" y2="373"/>
<path class="ar" d="M256.25 290.8 L257.55 296.1 L254.95 296.1 Z"/>
<path class="ar" d="M256.25 373 L254.95 367.7 L257.55 367.7 Z"/>
<text class="dt" transform="translate(255.5 325) rotate(-90) scale(1 1.15)" x="0" y="0" font-size="11" text-anchor="middle">248</text>
<line class="d" x1="231.25" y1="355" x2="231.25" y2="366.7"/>
<path class="ar" d="M231.25 366.7 L229.95 361.4 L232.55 361.4 Z"/>
<line class="d" x1="231.25" y1="373" x2="231.25" y2="391"/>
<path class="ar" d="M231.25 373 L232.55 378.3 L229.95 378.3 Z"/>
<text class="dt" transform="translate(228 383) rotate(-90) scale(1 1.15)" x="0" y="0" font-size="11" text-anchor="middle">14</text>
<line class="d" x1="144.5" y1="373" x2="144.5" y2="411"/>
<line class="d" x1="215.75" y1="373" x2="215.75" y2="411"/>
<line class="d" x1="158" y1="362" x2="158" y2="400"/>
<line class="d" x1="161.25" y1="362" x2="161.25" y2="390"/>
<line class="d" x1="202" y1="362" x2="202" y2="400"/>
<line class="d" x1="146" y1="386.25" x2="158" y2="386.25"/>
<path class="ar" d="M158 386.25 L152.7 387.55 L152.7 384.95 Z"/>
<line class="d" x1="161.25" y1="386.25" x2="180" y2="386.25"/>
<path class="ar" d="M161.25 386.25 L166.55 384.95 L166.55 387.55 Z"/>
<text class="dt" transform="translate(174 383.5) scale(1 1.15)" x="0" y="0" font-size="11" text-anchor="middle">11</text>
<line class="d" x1="158" y1="397" x2="202" y2="397"/>
<path class="ar" d="M158 397 L163.3 395.7 L163.3 398.3 Z"/>
<path class="ar" d="M202 397 L196.7 398.3 L196.7 395.7 Z"/>
<text class="dt" transform="translate(183.5 394.5) scale(1 1.15)" x="0" y="0" font-size="11" text-anchor="middle">140</text>
<line class="d" x1="144.5" y1="408.75" x2="215.75" y2="408.75"/>
<path class="ar" d="M144.5 408.75 L149.8 407.45 L149.8 410.05 Z"/>
<path class="ar" d="M215.75 408.75 L210.45 410.05 L210.45 407.45 Z"/>
<text class="dt" transform="translate(184 406) scale(1 1.15)" x="0" y="0" font-size="11" text-anchor="middle">220</text>
<line class="d" x1="370" y1="264.5" x2="420.5" y2="264.5"/>
<path class="ar" d="M370 264.5 L375.3 263.2 L375.3 265.8 Z"/>
<path class="ar" d="M420.5 264.5 L415.2 265.8 L415.2 263.2 Z"/>
<line class="d" x1="370" y1="261" x2="370" y2="340"/>
<line class="d" x1="420.5" y1="261" x2="420.5" y2="340"/>
<line class="d" x1="388" y1="270.5" x2="388" y2="274.5"/>
<line class="d" x1="405.5" y1="270.5" x2="405.5" y2="274.5"/>
<line class="d" x1="370" y1="274.5" x2="388" y2="274.5"/>
<path class="ar" d="M370 274.5 L375.3 273.2 L375.3 275.8 Z"/>
<path class="ar" d="M388 274.5 L382.7 275.8 L382.7 273.2 Z"/>
<line class="d" x1="405.5" y1="274.5" x2="420.5" y2="274.5"/>
<path class="ar" d="M405.5 274.5 L410.8 273.2 L410.8 275.8 Z"/>
<path class="ar" d="M420.5 274.5 L415.2 275.8 L415.2 273.2 Z"/>
<text class="dt" transform="translate(397.25 262) scale(1 1.15)" x="0" y="0" font-size="11" text-anchor="middle">140</text>
<text class="dt" transform="translate(379.5 272.3) scale(1 1.15)" x="0" y="0" font-size="11" text-anchor="middle">45</text>
<text class="dt" transform="translate(413.5 272.3) scale(1 1.15)" x="0" y="0" font-size="11" text-anchor="middle">45</text>
<line class="h" x1="357.3" y1="314" x2="357.3" y2="384"/>
<rect class="h" x="386.25" y="340.75" width="21" height="15" style="fill:none"/>
<line class="h" x1="370" y1="340.75" x2="386" y2="340.75"/>
<line class="h" x1="370" y1="355.75" x2="386" y2="355.75"/>
<line class="d" x1="370" y1="280" x2="370" y2="340"/>
<line class="d" x1="420.5" y1="280" x2="420.5" y2="317"/>
<line class="d" x1="388" y1="274.5" x2="388" y2="304.3"/>
<line class="d" x1="405.5" y1="274.5" x2="405.5" y2="304.3"/>
<line class="c" x1="352" y1="348.2" x2="428" y2="348.2"/>
<line class="c" x1="380" y1="313" x2="413" y2="313"/>
<line class="c" x1="396.25" y1="278" x2="396.25" y2="432"/>
<line class="d" x1="318" y1="309.25" x2="354.75" y2="309.25"/>
<line class="d" x1="318" y1="388" x2="354.75" y2="388"/>
<line class="d" x1="324.25" y1="309.25" x2="324.25" y2="388"/>
<path class="ar" d="M324.25 309.25 L325.55 314.55 L322.95 314.55 Z"/>
<path class="ar" d="M324.25 388 L322.95 382.7 L325.55 382.7 Z"/>
<text class="dt" transform="translate(323 350.5) rotate(-90) scale(1 1.15)" x="0" y="0" font-size="11" text-anchor="middle">210</text>
<line class="d" x1="331" y1="324.5" x2="366" y2="324.5"/>
<line class="d" x1="331" y1="374.5" x2="360" y2="374.5"/>
<line class="d" x1="335" y1="324.5" x2="335" y2="374.5"/>
<path class="ar" d="M335 324.5 L336.3 329.8 L333.7 329.8 Z"/>
<path class="ar" d="M335 374.5 L333.7 369.2 L336.3 369.2 Z"/>
<text class="dt" transform="translate(334.3 354.3) rotate(-90) scale(1 1.15)" x="0" y="0" font-size="11" text-anchor="middle">152 H8</text>
<line class="d" x1="341" y1="331.25" x2="367.5" y2="331.25"/>
<line class="d" x1="341" y1="367" x2="367.5" y2="367"/>
<line class="d" x1="344.5" y1="331.25" x2="344.5" y2="367"/>
<path class="ar" d="M344.5 331.25 L345.8 336.55 L343.2 336.55 Z"/>
<path class="ar" d="M344.5 367 L343.2 361.7 L345.8 361.7 Z"/>
<text class="dt" transform="translate(344 347.5) rotate(-90) scale(1 1.15)" x="0" y="0" font-size="11" text-anchor="middle">120</text>
<line class="d" x1="354.75" y1="388" x2="354.75" y2="430"/>
<line class="d" x1="358" y1="388" x2="358" y2="408"/>
<line class="d" x1="360" y1="388" x2="360" y2="419"/>
<line class="d" x1="343.75" y1="405" x2="354.75" y2="405"/>
<path class="ar" d="M354.75 405 L349.45 406.3 L349.45 403.7 Z"/>
<line class="d" x1="358" y1="405" x2="378" y2="405"/>
<path class="ar" d="M358 405 L363.3 403.7 L363.3 406.3 Z"/>
<text class="dt" transform="translate(370 402.5) scale(1 1.15)" x="0" y="0" font-size="11" text-anchor="middle">4</text>
<line class="d" x1="343.75" y1="416.25" x2="354.75" y2="416.25"/>
<path class="ar" d="M354.75 416.25 L349.45 417.55 L349.45 414.95 Z"/>
<line class="d" x1="360" y1="416.25" x2="380" y2="416.25"/>
<path class="ar" d="M360 416.25 L365.3 414.95 L365.3 417.55 Z"/>
<text class="dt" transform="translate(371.5 413.5) scale(1 1.15)" x="0" y="0" font-size="11" text-anchor="middle">15</text>
<line class="d" x1="354.75" y1="427.5" x2="396.25" y2="427.5"/>
<path class="ar" d="M354.75 427.5 L360.05 426.2 L360.05 428.8 Z"/>
<path class="ar" d="M396.25 427.5 L390.95 428.8 L390.95 426.2 Z"/>
<text class="dt" transform="translate(376.5 425) scale(1 1.15)" x="0" y="0" font-size="11" text-anchor="middle">110.5</text>
<circle class="c" cx="524" cy="348.5" r="33" style="fill:none"/>
<line class="c" x1="472" y1="321.2" x2="585" y2="321.2"/>
<line class="c" x1="472" y1="348.5" x2="598" y2="348.5"/>
<line class="c" x1="524" y1="260" x2="524" y2="395"/>
<line class="d" x1="472.8" y1="264.7" x2="566.7" y2="264.7"/>
<path class="ar" d="M472.8 264.7 L478.1 263.4 L478.1 266 Z"/>
<path class="ar" d="M524 264.7 L518.7 266 L518.7 263.4 Z"/>
<path class="ar" d="M524 264.7 L529.3 263.4 L529.3 266 Z"/>
<path class="ar" d="M566.7 264.7 L561.4 266 L561.4 263.4 Z"/>
<line class="d" x1="472.8" y1="260" x2="472.8" y2="284.1"/>
<line class="d" x1="566.7" y1="260" x2="566.7" y2="301.5"/>
<text class="dt" transform="translate(500 262.3) scale(1 1.15)" x="0" y="0" font-size="11" text-anchor="middle">126</text>
<text class="dt" transform="translate(546 262.3) scale(1 1.15)" x="0" y="0" font-size="11" text-anchor="middle">110</text>
<line class="d" x1="456.5" y1="277.5" x2="490.7" y2="277.5"/>
<path class="ar" d="M472.8 277.5 L467.5 278.8 L467.5 276.2 Z"/>
<path class="ar" d="M480.5 277.5 L485.8 276.2 L485.8 278.8 Z"/>
<line class="d" x1="480.5" y1="272" x2="480.5" y2="284.1"/>
<text class="dt" transform="translate(457 274.8) scale(1 1.15)" x="0" y="0" font-size="11">N<tspan font-size="7.5" dy="0.3" style="font-style:normal">3</tspan></text>
<line class="d" x1="566" y1="301.5" x2="598" y2="301.5"/>
<line class="d" x1="582" y1="321.2" x2="582" y2="348.5"/>
<path class="ar" d="M582 321.2 L583.3 326.5 L580.7 326.5 Z"/>
<path class="ar" d="M582 348.5 L580.7 343.2 L583.3 343.2 Z"/>
<text class="dt" transform="translate(579.3 334) rotate(-90) scale(1 1.15)" x="0" y="0" font-size="11" text-anchor="middle">86.9</text>
<line class="d" x1="594.7" y1="301.5" x2="594.7" y2="348.5"/>
<path class="ar" d="M594.7 301.5 L596 306.8 L593.4 306.8 Z"/>
<path class="ar" d="M594.7 348.5 L593.4 343.2 L596 343.2 Z"/>
<text class="dt" transform="translate(593 326) rotate(-90) scale(1 1.15)" x="0" y="0" font-size="11" text-anchor="middle">138</text>
<line class="d" x1="491.5" y1="353.5" x2="491.5" y2="426"/>
<line class="d" x1="497.3" y1="378.5" x2="497.3" y2="414"/>
<line class="d" x1="502.7" y1="378.5" x2="502.7" y2="414"/>
<line class="d" x1="556.8" y1="353.5" x2="556.8" y2="426"/>
<line class="d" x1="488" y1="411.5" x2="497.3" y2="411.5"/>
<path class="ar" d="M497.3 411.5 L492 412.8 L492 410.2 Z"/>
<line class="d" x1="502.7" y1="411.5" x2="521" y2="411.5"/>
<path class="ar" d="M502.7 411.5 L508 410.2 L508 412.8 Z"/>
<text class="dt" transform="translate(516.5 407.8) scale(1 1.15)" x="0" y="0" font-size="11" text-anchor="middle">12.5</text>
<line class="d" x1="491.5" y1="423.2" x2="556.8" y2="423.2"/>
<path class="ar" d="M491.5 423.2 L496.8 421.9 L496.8 424.5 Z"/>
<path class="ar" d="M556.8 423.2 L551.5 424.5 L551.5 421.9 Z"/>
<text class="dt" transform="translate(530 419.8) scale(1 1.15)" x="0" y="0" font-size="11" text-anchor="middle">176</text>
<line class="d" x1="20" y1="491.3" x2="70.2" y2="491.3"/>
<path class="ar" d="M20 491.3 L25.3 490 L25.3 492.6 Z"/>
<path class="ar" d="M70.2 491.3 L64.9 492.6 L64.9 490 Z"/>
<line class="d" x1="20" y1="487.8" x2="20" y2="552"/>
<line class="d" x1="70.2" y1="487.8" x2="70.2" y2="552"/>
<line class="d" x1="38.4" y1="498.9" x2="38.4" y2="502.9"/>
<line class="d" x1="53.3" y1="498.9" x2="53.3" y2="502.9"/>
<line class="d" x1="20" y1="502.9" x2="38.4" y2="502.9"/>
<path class="ar" d="M20 502.9 L25.3 501.6 L25.3 504.2 Z"/>
<path class="ar" d="M38.4 502.9 L33.1 504.2 L33.1 501.6 Z"/>
<line class="d" x1="53.3" y1="502.9" x2="70.2" y2="502.9"/>
<path class="ar" d="M53.3 502.9 L58.6 501.6 L58.6 504.2 Z"/>
<path class="ar" d="M70.2 502.9 L64.9 504.2 L64.9 501.6 Z"/>
<text class="dt" transform="translate(45.2 488.8) scale(1 1.15)" x="0" y="0" font-size="11" text-anchor="middle">140</text>
<text class="dt" transform="translate(29.7 500.7) scale(1 1.15)" x="0" y="0" font-size="11" text-anchor="middle">45</text>
<text class="dt" transform="translate(62.25 500.7) scale(1 1.15)" x="0" y="0" font-size="11" text-anchor="middle">45</text>
<line class="d" x1="38.4" y1="502.9" x2="38.4" y2="533"/>
<line class="d" x1="53.3" y1="502.9" x2="53.3" y2="533"/>
<line class="h" x1="20" y1="604.3" x2="20" y2="610.5"/>
<line class="h" x1="70.5" y1="604.3" x2="70.5" y2="610.5"/>
<rect class="h" x="36.4" y="555.7" width="16.1" height="12.3" style="fill:none"/>
<line class="h" x1="20" y1="555.7" x2="69" y2="555.7"/>
<line class="h" x1="20" y1="568" x2="69" y2="568"/>
<line class="c" x1="12.7" y1="561.8" x2="83.2" y2="561.8"/>
<line class="c" x1="45.2" y1="508" x2="45.2" y2="600"/>
<line class="d" x1="21.1" y1="600" x2="21.1" y2="627"/>
<line class="d" x1="68.6" y1="600" x2="68.6" y2="627"/>
<line class="d" x1="14.2" y1="610.5" x2="14.2" y2="638"/>
<line class="d" x1="77.1" y1="610.5" x2="77.1" y2="638"/>
<line class="d" x1="21.1" y1="623.7" x2="68.6" y2="623.7"/>
<path class="ar" d="M21.1 623.7 L26.4 622.4 L26.4 625 Z"/>
<path class="ar" d="M68.6 623.7 L63.3 625 L63.3 622.4 Z"/>
<text class="dt" transform="translate(46.7 621) scale(1 1.15)" x="0" y="0" font-size="11" text-anchor="middle">146</text>
<line class="d" x1="14.2" y1="634.7" x2="77.1" y2="634.7"/>
<path class="ar" d="M14.2 634.7 L19.5 633.4 L19.5 636 Z"/>
<path class="ar" d="M77.1 634.7 L71.8 636 L71.8 633.4 Z"/>
<text class="dt" transform="translate(46.7 632) scale(1 1.15)" x="0" y="0" font-size="11" text-anchor="middle">186</text>
<line class="d" x1="77" y1="604.3" x2="93" y2="604.3"/>
<line class="d" x1="77" y1="610.5" x2="93" y2="610.5"/>
<line class="d" x1="90.8" y1="588.8" x2="90.8" y2="604.3"/>
<path class="ar" d="M90.8 604.3 L89.5 599 L92.1 599 Z"/>
<line class="d" x1="90.8" y1="610.5" x2="90.8" y2="626.4"/>
<path class="ar" d="M90.8 610.5 L92.1 615.8 L89.5 615.8 Z"/>
<text class="dt" transform="translate(87.5 619) rotate(-90) scale(1 1.15)" x="0" y="0" font-size="11" text-anchor="middle">14</text>
<line class="c" x1="179.4" y1="500" x2="179.4" y2="620"/>
<line class="c" x1="140" y1="562.3" x2="272" y2="562.3"/>
<line class="d" x1="207.5" y1="500" x2="207.5" y2="537"/>
<line class="d" x1="179.4" y1="503.5" x2="207.3" y2="503.5"/>
<path class="ar" d="M179.4 503.5 L184.7 502.2 L184.7 504.8 Z"/>
<path class="ar" d="M207.3 503.5 L202 504.8 L202 502.2 Z"/>
<text class="dt" transform="translate(194 500.8) scale(1 1.15)" x="0" y="0" font-size="11" text-anchor="middle">86.9</text>
<line class="d" x1="157" y1="519.2" x2="171.2" y2="519.2"/>
<line class="d" x1="157" y1="525.6" x2="171.2" y2="525.6"/>
<line class="d" x1="160.2" y1="508" x2="160.2" y2="519.2"/>
<path class="ar" d="M160.2 519.2 L158.9 513.9 L161.5 513.9 Z"/>
<line class="d" x1="160.2" y1="525.6" x2="160.2" y2="536"/>
<path class="ar" d="M160.2 525.6 L161.5 530.9 L158.9 530.9 Z"/>
<line class="d" x1="245.4" y1="519.2" x2="272" y2="519.2"/>
<line class="d" x1="215.2" y1="610.9" x2="272" y2="610.9"/>
<line class="d" x1="260" y1="519.2" x2="260" y2="562.3"/>
<path class="ar" d="M260 519.2 L261.3 524.5 L258.7 524.5 Z"/>
<path class="ar" d="M260 562.3 L258.7 557 L261.3 557 Z"/>
<text class="dt" transform="translate(257 541) rotate(-90) scale(1 1.15)" x="0" y="0" font-size="11" text-anchor="middle">126</text>
<line class="d" x1="260" y1="562.3" x2="260" y2="610.9"/>
<path class="ar" d="M260 562.3 L261.3 567.6 L258.7 567.6 Z"/>
<path class="ar" d="M260 610.9 L258.7 605.6 L261.3 605.6 Z"/>
<text class="dt" transform="translate(257 588) rotate(-90) scale(1 1.15)" x="0" y="0" font-size="11" text-anchor="middle">142</text>
<line class="d" x1="144.6" y1="610.9" x2="144.6" y2="648"/>
<line class="d" x1="215.2" y1="610.9" x2="215.2" y2="648"/>
<line class="d" x1="155.5" y1="600" x2="155.5" y2="627"/>
<line class="d" x1="158.7" y1="600" x2="158.7" y2="638"/>
<line class="d" x1="201.3" y1="600" x2="201.3" y2="638"/>
<line class="d" x1="145" y1="624" x2="155.5" y2="624"/>
<path class="ar" d="M155.5 624 L150.2 625.3 L150.2 622.7 Z"/>
<line class="d" x1="158.7" y1="624" x2="178" y2="624"/>
<path class="ar" d="M158.7 624 L164 622.7 L164 625.3 Z"/>
<text class="dt" transform="translate(173.5 621.3) scale(1 1.15)" x="0" y="0" font-size="11" text-anchor="middle">11</text>
<line class="d" x1="158.7" y1="635.2" x2="201.3" y2="635.2"/>
<path class="ar" d="M158.7 635.2 L164 633.9 L164 636.5 Z"/>
<path class="ar" d="M201.3 635.2 L196 636.5 L196 633.9 Z"/>
<text class="dt" transform="translate(181 632.5) scale(1 1.15)" x="0" y="0" font-size="11" text-anchor="middle">140</text>
<line class="d" x1="144.6" y1="645.3" x2="215.2" y2="645.3"/>
<path class="ar" d="M144.6 645.3 L149.9 644 L149.9 646.6 Z"/>
<path class="ar" d="M215.2 645.3 L209.9 646.6 L209.9 644 Z"/>
<text class="dt" transform="translate(181 642.6) scale(1 1.15)" x="0" y="0" font-size="11" text-anchor="middle">220</text>
<line class="d" x1="372.3" y1="489.7" x2="420.8" y2="489.7"/>
<path class="ar" d="M372.3 489.7 L377.6 488.4 L377.6 491 Z"/>
<path class="ar" d="M420.8 489.7 L415.5 491 L415.5 488.4 Z"/>
<line class="d" x1="372.3" y1="486.2" x2="372.3" y2="560"/>
<line class="d" x1="420.8" y1="486.2" x2="420.8" y2="560"/>
<line class="d" x1="388.3" y1="496.9" x2="388.3" y2="500.9"/>
<line class="d" x1="404.5" y1="496.9" x2="404.5" y2="500.9"/>
<line class="d" x1="372.3" y1="500.9" x2="388.3" y2="500.9"/>
<path class="ar" d="M372.3 500.9 L377.6 499.6 L377.6 502.2 Z"/>
<path class="ar" d="M388.3 500.9 L383 502.2 L383 499.6 Z"/>
<line class="d" x1="404.5" y1="500.9" x2="420.8" y2="500.9"/>
<path class="ar" d="M404.5 500.9 L409.8 499.6 L409.8 502.2 Z"/>
<path class="ar" d="M420.8 500.9 L415.5 502.2 L415.5 499.6 Z"/>
<text class="dt" transform="translate(397.4 487.2) scale(1 1.15)" x="0" y="0" font-size="11" text-anchor="middle">140</text>
<text class="dt" transform="translate(380.8 498.7) scale(1 1.15)" x="0" y="0" font-size="11" text-anchor="middle">45</text>
<text class="dt" transform="translate(413.15 498.7) scale(1 1.15)" x="0" y="0" font-size="11" text-anchor="middle">45</text>
<line class="d" x1="388.3" y1="500.9" x2="388.3" y2="525.9"/>
<line class="d" x1="404.5" y1="500.9" x2="404.5" y2="525.9"/>
<rect class="h" x="387.9" y="566" width="16.9" height="14.5" style="fill:none"/>
<line class="h" x1="373.5" y1="566" x2="418" y2="566"/>
<line class="h" x1="373.5" y1="579.7" x2="418" y2="579.7"/>
<line class="c" x1="365.4" y1="573.25" x2="428.1" y2="573.25"/>
<line class="c" x1="396.4" y1="505" x2="396.4" y2="635"/>
<line class="d" x1="340" y1="547.6" x2="373.5" y2="547.6"/>
<line class="d" x1="340" y1="600.6" x2="373.5" y2="600.6"/>
<line class="d" x1="344.3" y1="547.6" x2="344.3" y2="600.6"/>
<path class="ar" d="M344.3 547.6 L345.6 552.9 L343 552.9 Z"/>
<path class="ar" d="M344.3 600.6 L343 595.3 L345.6 595.3 Z"/>
<text class="dt" transform="translate(341 574) rotate(-90) scale(1 1.15)" x="0" y="0" font-size="11" text-anchor="middle">160</text>
<line class="d" x1="352" y1="555.3" x2="372.3" y2="555.3"/>
<line class="d" x1="352" y1="593" x2="372.3" y2="593"/>
<line class="d" x1="356.9" y1="555.3" x2="356.9" y2="593"/>
<path class="ar" d="M356.9 555.3 L358.2 560.6 L355.6 560.6 Z"/>
<path class="ar" d="M356.9 593 L355.6 587.7 L358.2 587.7 Z"/>
<text class="dt" transform="translate(353.6 574.4) rotate(-90) scale(1 1.15)" x="0" y="0" font-size="11" text-anchor="middle">110 H8</text>
<line class="d" x1="374.6" y1="607" x2="374.6" y2="630"/>
<line class="d" x1="374.6" y1="624.3" x2="396.4" y2="624.3"/>
<path class="ar" d="M374.6 624.3 L379.9 623 L379.9 625.6 Z"/>
<path class="ar" d="M396.4 624.3 L391.1 625.6 L391.1 623 Z"/>
<text class="dt" transform="translate(385.6 621.6) scale(1 1.15)" x="0" y="0" font-size="11" text-anchor="middle">66.5</text>
<circle class="c" cx="521.5" cy="572.5" r="20.5" style="fill:none"/>
<line class="c" x1="478" y1="544.75" x2="590" y2="544.75"/>
<line class="c" x1="478" y1="572.5" x2="598" y2="572.5"/>
<line class="c" x1="521.5" y1="482" x2="521.5" y2="612"/>
<line class="d" x1="478.7" y1="490" x2="558.7" y2="490"/>
<path class="ar" d="M478.7 490 L484 488.7 L484 491.3 Z"/>
<path class="ar" d="M521.5 490 L516.2 491.3 L516.2 488.7 Z"/>
<path class="ar" d="M521.5 490 L526.8 488.7 L526.8 491.3 Z"/>
<path class="ar" d="M558.7 490 L553.4 491.3 L553.4 488.7 Z"/>
<line class="d" x1="478.7" y1="485" x2="478.7" y2="506"/>
<line class="d" x1="558.7" y1="485" x2="558.7" y2="529.3"/>
<text class="dt" transform="translate(503.5 487.5) scale(1 1.15)" x="0" y="0" font-size="11" text-anchor="middle">126</text>
<text class="dt" transform="translate(543 487.5) scale(1 1.15)" x="0" y="0" font-size="11" text-anchor="middle">110</text>
<line class="d" x1="460" y1="499.9" x2="498.7" y2="499.9"/>
<path class="ar" d="M478.3 499.9 L473 501.2 L473 498.6 Z"/>
<path class="ar" d="M485.5 499.9 L490.8 498.6 L490.8 501.2 Z"/>
<line class="d" x1="485.3" y1="495" x2="485.3" y2="506"/>
<text class="dt" transform="translate(461 497.2) scale(1 1.15)" x="0" y="0" font-size="11">N<tspan font-size="7.5" dy="0.3" style="font-style:normal">3</tspan></text>
<line class="d" x1="550" y1="529.3" x2="598" y2="529.3"/>
<line class="d" x1="548" y1="605.3" x2="598" y2="605.3"/>
<line class="d" x1="573.3" y1="544.75" x2="573.3" y2="572.5"/>
<path class="ar" d="M573.3 544.75 L574.6 550.05 L572 550.05 Z"/>
<path class="ar" d="M573.3 572.5 L572 567.2 L574.6 567.2 Z"/>
<text class="dt" transform="translate(570 558.7) rotate(-90) scale(1 1.15)" x="0" y="0" font-size="11" text-anchor="middle">86.9</text>
<line class="d" x1="588" y1="529.3" x2="588" y2="572.5"/>
<path class="ar" d="M588 529.3 L589.3 534.6 L586.7 534.6 Z"/>
<path class="ar" d="M588 572.5 L586.7 567.2 L589.3 567.2 Z"/>
<text class="dt" transform="translate(585.7 553.5) rotate(-90) scale(1 1.15)" x="0" y="0" font-size="11" text-anchor="middle">138</text>
<line class="d" x1="588" y1="572.5" x2="588" y2="605.3"/>
<path class="ar" d="M588 572.5 L589.3 577.8 L586.7 577.8 Z"/>
<path class="ar" d="M588 605.3 L586.7 600 L589.3 600 Z"/>
<text class="dt" transform="translate(585.4 589.2) rotate(-90) scale(1 1.15)" x="0" y="0" font-size="11" text-anchor="middle">106</text>
<line class="d" x1="500.8" y1="582.5" x2="500.8" y2="640"/>
<line class="d" x1="542.7" y1="604" x2="542.7" y2="640"/>
<line class="d" x1="533.5" y1="582" x2="533.5" y2="630"/>
<line class="d" x1="537.2" y1="582" x2="537.2" y2="630"/>
<line class="d" x1="541" y1="582" x2="541" y2="628"/>
<line class="d" x1="522.7" y1="626.1" x2="576" y2="626.1"/>
<path class="ar" d="M533.5 626.1 L528.2 627.4 L528.2 624.8 Z"/>
<path class="ar" d="M537.2 626.1 L542.5 624.8 L542.5 627.4 Z"/>
<text class="dt" transform="translate(566.5 622.5) scale(1 1.15)" x="0" y="0" font-size="11" text-anchor="middle">M10×17</text>
<line class="d" x1="500.8" y1="637.3" x2="542.7" y2="637.3"/>
<path class="ar" d="M500.8 637.3 L506.1 636 L506.1 638.6 Z"/>
<path class="ar" d="M542.7 637.3 L537.4 638.6 L537.4 636 Z"/>
<text class="dt" transform="translate(521 634.5) scale(1 1.15)" x="0" y="0" font-size="11" text-anchor="middle">130</text>
</svg></body></html>
